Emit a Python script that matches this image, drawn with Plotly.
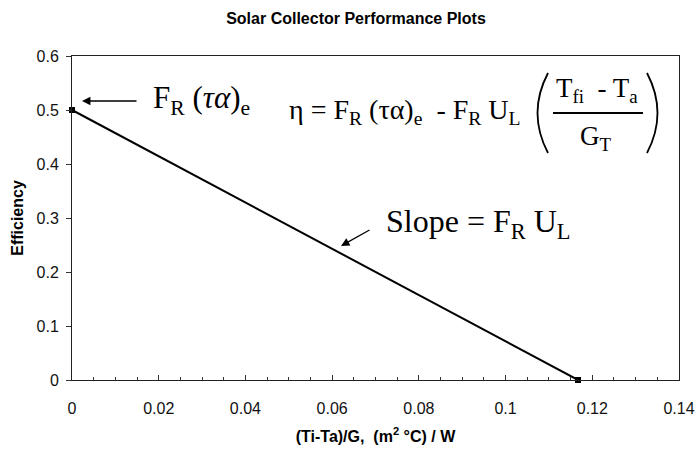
import plotly.graph_objects as go

# ---- data ----
x_ratio = [0.0, 0.1167]          # (Ti-Ta)/G
efficiency = [0.5, 0.0]          # collector efficiency
x_ticks = [0, 0.02, 0.04, 0.06, 0.08, 0.1, 0.12, 0.14]
y_ticks = [0, 0.1, 0.2, 0.3, 0.4, 0.5, 0.6]

W, H = 696, 449
ML, MR, MT, MB = 72, 17, 56, 69
PW, PH = W - ML - MR, H - MT - MB


def px(xp):
    return (xp - ML) / PW


def py(yp):
    return (H - MB - yp) / PH


fig = go.Figure()
fig.add_trace(go.Scatter(
    x=x_ratio, y=efficiency, mode="lines+markers",
    line=dict(color="black", width=2),
    marker=dict(symbol="square", size=6, color="black"),
    cliponaxis=False, showlegend=False, hoverinfo="skip"))

serif = "Liberation Serif, Times New Roman, serif"
sans = "Liberation Sans, Arial, sans-serif"
FS = 16

annotations = [
    # arrow to intercept
    dict(xref="paper", yref="paper", x=px(82), y=py(101), text=" ",
         showarrow=True, ax=58, ay=0, arrowhead=2, arrowsize=1.3,
         arrowwidth=1.3, arrowcolor="black"),
    dict(xref="paper", yref="paper", x=px(151), y=py(100), xanchor="left",
         yanchor="middle", showarrow=False,
         text="F<sub>R</sub> (<i>τα</i>)<sub>e</sub>",
         font=dict(family=serif, size=31, color="black")),
    # equation
    dict(xref="paper", yref="paper", x=px(287), y=py(111), xanchor="left",
         yanchor="middle", showarrow=False,
         text="η = F<sub>R</sub> (τα)<sub>e</sub>&nbsp; - F<sub>R</sub> U<sub>L</sub>",
         font=dict(family=serif, size=28, color="black")),
    dict(xref="paper", yref="paper", x=px(597), y=py(90), xanchor="center",
         yanchor="middle", showarrow=False,
         text="T<sub>fi</sub>&nbsp; - T<sub>a</sub>",
         font=dict(family=serif, size=27, color="black")),
    dict(xref="paper", yref="paper", x=px(596), y=py(138), xanchor="center",
         yanchor="middle", showarrow=False,
         text="G<sub>T</sub>",
         font=dict(family=serif, size=27, color="black")),
    # slope
    dict(xref="paper", yref="paper", x=px(341), y=py(246), text=" ",
         showarrow=True, ax=32, ay=-18, arrowhead=2, arrowsize=1.3,
         arrowwidth=1.3, arrowcolor="black"),
    dict(xref="paper", yref="paper", x=px(384), y=py(223), xanchor="left",
         yanchor="middle", showarrow=False,
         text="Slope = F<sub>R</sub> U<sub>L</sub>",
         font=dict(family=serif, size=32, color="black")),
]


def bez(x0, y0, cx, cy, x1, y1):
    return (f"M {px(x0)},{py(y0)} Q {px(cx)},{py(cy)} {px(x1)},{py(y1)}")


shapes = [
    dict(type="line", xref="paper", yref="paper", x0=px(553), x1=px(643),
         y0=py(113), y1=py(113), line=dict(color="black", width=2)),
    dict(type="path", xref="paper", yref="paper",
         path=bez(548, 73, 527, 113, 548, 153),
         line=dict(color="black", width=1.8)),
    dict(type="path", xref="paper", yref="paper",
         path=bez(647, 73, 668, 113, 647, 153),
         line=dict(color="black", width=1.8)),
]

fig.update_layout(
    width=W, height=H,
    margin=dict(l=ML, r=MR, t=MT, b=MB),
    paper_bgcolor="white", plot_bgcolor="white",
    font=dict(family=sans, size=FS, color="black"),
    title=dict(text="<b>Solar Collector Performance Plots</b>",
               x=356 / W, xref="container", xanchor="center",
               y=1 - 18 / H, yref="container", yanchor="middle",
               font=dict(family=sans, size=FS, color="black")),
    annotations=annotations,
    shapes=shapes,
)

fig.update_xaxes(
    range=[0, 0.14], tickvals=x_ticks, ticks="inside", ticklen=5,
    tickcolor="#333", tickwidth=1,
    minor=dict(dtick=0.005, ticks="inside", ticklen=3, tickcolor="#333"),
    showline=True, linecolor="#222", linewidth=1, mirror=True,
    showgrid=False, zeroline=False, ticklabelstandoff=14, automargin=False,
    tickfont=dict(family=sans, size=FS, color="#111"),
    title=dict(text="<b>(Ti-Ta)/G,  (m<sup>2</sup> °C) / W</b>",
               font=dict(family=sans, size=FS, color="black"), standoff=14),
)
fig.update_yaxes(
    range=[0, 0.6], tickvals=y_ticks, ticks="outside", ticklen=5,
    tickcolor="#333", tickwidth=1,
    showline=True, linecolor="#222", linewidth=1, mirror=True,
    showgrid=False, zeroline=False, ticklabelstandoff=4, automargin=False,
    tickfont=dict(family=sans, size=FS, color="#111"),
    title=dict(text="<b>Efficiency</b>",
               font=dict(family=sans, size=FS, color="black"), standoff=8),
)

fig.write_html("out.html", config={"displayModeBar": False},
               post_script="document.body.style.margin='0';")
